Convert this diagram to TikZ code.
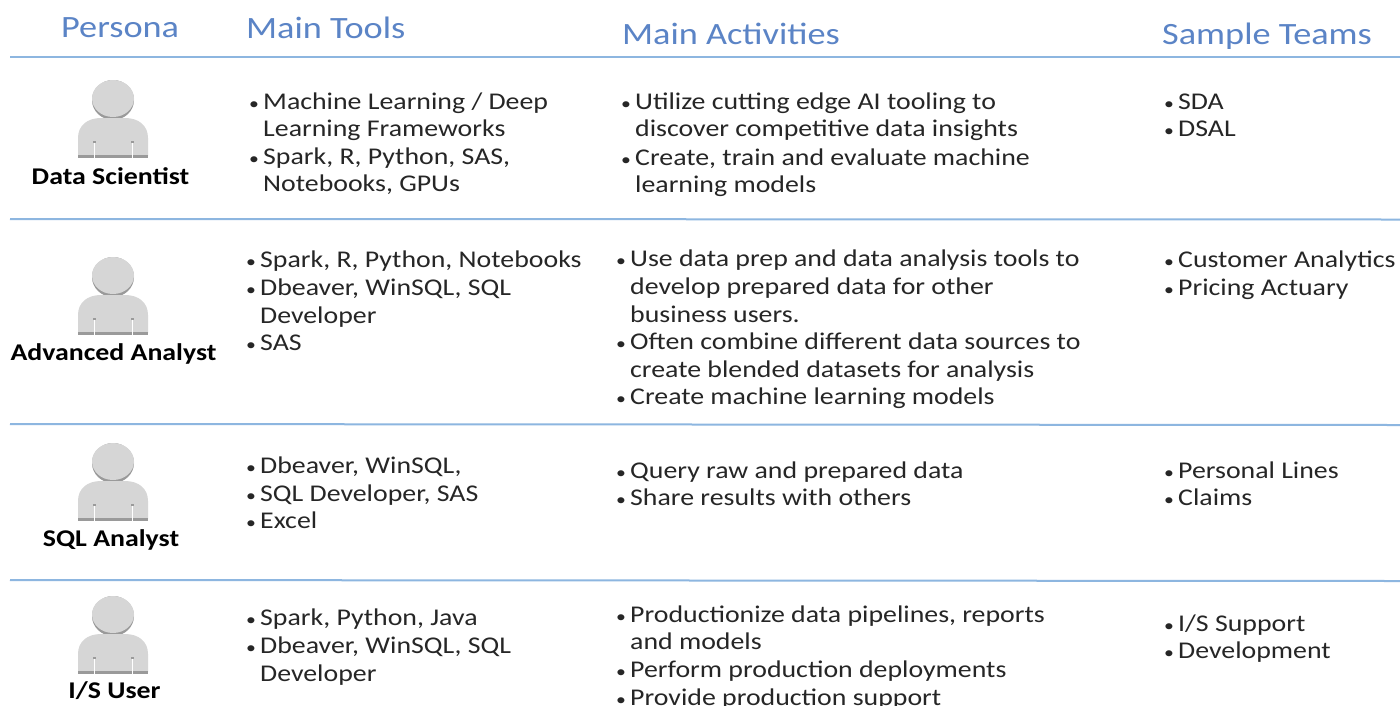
\documentclass[tikz,border=0pt]{standalone}
\usepackage{fontspec}
\setmainfont{Carlito}
\newfontfamily\bodyf[FakeStretch=1.16]{Carlito}
\newfontfamily\headf[FakeStretch=1.17]{Carlito}
\definecolor{rulec}{HTML}{8DB6E0}
\definecolor{headc}{HTML}{5B84C6}
\definecolor{txtc}{HTML}{262626}
\definecolor{iconc}{HTML}{D6D6D6}
\definecolor{iconshade}{HTML}{9A9A9A}
\tikzset{
 x=1pt,y=-1pt,
 headtxt/.style={anchor=base west,inner sep=0pt,text=headc,font=\headf\fontsize{31}{32}\selectfont},
 bodytxt/.style={anchor=base west,inner sep=0pt,text=txtc,font=\bodyf\fontsize{24}{26}\selectfont},
 bullettxt/.style={anchor=base west,inner sep=0pt,text=txtc,font=\bodyf\fontsize{17}{18}\selectfont},
 roletxt/.style={anchor=base,inner sep=0pt,text=black,font=\bodyf\bfseries\fontsize{24}{26}\selectfont},
 rowrule/.style={draw=rulec,line width=2pt},
 person/.pic={
  \fill[iconshade] (0,0) ellipse (21 and 20);
  \fill[iconc] (0,-1.5) ellipse (21 and 18.5);
  \fill[iconc] (-35,56) -- (-35,38) .. controls (-35,25) and (-25,18) .. (-12,18) -- (12,18) .. controls (25,18) and (35,25) .. (35,38) -- (35,56) -- cycle;
  \fill[iconshade] (-35,55) rectangle (35,58);
  \fill[white] (-19,42) rectangle (-18,58);
  \fill[white] (19,42) rectangle (20,58);
  \fill[iconshade] (-20,41) rectangle (-17,43);
  \fill[iconshade] (18,41) rectangle (21,43);
 }
}
\newcommand{\bl}[5]{% name, bullet x, text x, baseline y, text
 \node[bullettxt] (b#1) at (#2,#4) {•};
 \node[bodytxt] (#1) at (#3,#4) {#5};}
\newcommand{\cl}[4]{% name, text x, baseline y, text
 \node[bodytxt] (#1) at (#2,#3) {#4};}
\begin{document}
\begin{tikzpicture}
\useasboundingbox (0,0) rectangle (1400,705);
\clip (0,0) rectangle (1400,705);
\fill[white] (0,0) rectangle (1400,705);
% headers
\node[headtxt] (h1) at (61,37) {Persona};
\node[headtxt] (h2) at (246,38) {Main Tools};
\node[headtxt] (h3) at (622,44) {Main Activities};
\node[headtxt] (h4) at (1162,44) {Sample Teams};
% rules
\draw[rowrule] (10,57) -- (1400,57);
\draw[rowrule] (10,219) -- (1400,219.5);
\draw[rowrule] (10,424) -- (1400,425);
\draw[rowrule] (10,580) -- (1400,581);
% persons
\pic at (113,100) {person};
\pic at (113,277) {person};
\pic at (113,463) {person};
\pic at (113,616) {person};
\node[roletxt] (r1) at (110.5,184) {Data Scientist};
\node[roletxt] (r2) at (113.5,360) {Advanced Analyst};
\node[roletxt] (r3) at (111,546) {SQL Analyst};
\node[roletxt] (r4) at (114.5,698) {I/S User};
% row 1
\bl{a1}{249}{263}{109}{Machine Learning / Deep}
\cl{a2}{263}{136}{Learning Frameworks}
\bl{a3}{249}{263}{164}{Spark, R, Python, SAS,}
\cl{a4}{263}{191}{Notebooks, GPUs}
\bl{a5}{621}{635}{109}{Utilize cutting edge AI tooling to}
\cl{a6}{635}{136}{discover competitive data insights}
\bl{a7}{621}{635}{165}{Create, train and evaluate machine}
\cl{a8}{635}{192}{learning models}
\bl{a9}{1164}{1178}{109}{SDA}
\bl{a10}{1164}{1178}{136}{DSAL}
% row 2
\bl{c1}{246}{260}{267}{Spark, R, Python, Notebooks}
\bl{c2}{246}{260}{295}{Dbeaver, WinSQL, SQL}
\cl{c3}{260}{323}{Developer}
\bl{c4}{246}{260}{350}{SAS}
\bl{c5}{616}{630}{266}{Use data prep and data analysis tools to}
\cl{c6}{630}{294}{develop prepared data for other}
\cl{c7}{630}{322}{business users.}
\bl{c8}{616}{630}{349}{Often combine different data sources to}
\cl{c9}{630}{377}{create blended datasets for analysis}
\bl{c10}{616}{630}{404}{Create machine learning models}
\bl{c11}{1164}{1178}{267}{Customer Analytics}
\bl{c12}{1164}{1178}{295}{Pricing Actuary}
% row 3
\bl{d1}{246}{260}{473}{Dbeaver, WinSQL,}
\bl{d2}{246}{260}{501}{SQL Developer, SAS}
\bl{d3}{246}{260}{528}{Excel}
\bl{d4}{616}{630}{478}{Query raw and prepared data}
\bl{d5}{616}{630}{505}{Share results with others}
\bl{d6}{1164}{1178}{478}{Personal Lines}
\bl{d7}{1164}{1178}{505}{Claims}
% row 4
\bl{e1}{246}{260}{625}{Spark, Python, Java}
\bl{e2}{246}{260}{653}{Dbeaver, WinSQL, SQL}
\cl{e3}{260}{681}{Developer}
\bl{e4}{616}{630}{622}{Productionize data pipelines, reports}
\cl{e5}{630}{649}{and models}
\bl{e6}{616}{630}{677}{Perform production deployments}
\bl{e7}{616}{630}{705}{Provide production support}
\bl{e8}{1164}{1178}{631}{I/S Support}
\bl{e9}{1164}{1178}{658}{Development}
\end{tikzpicture}
\end{document}
